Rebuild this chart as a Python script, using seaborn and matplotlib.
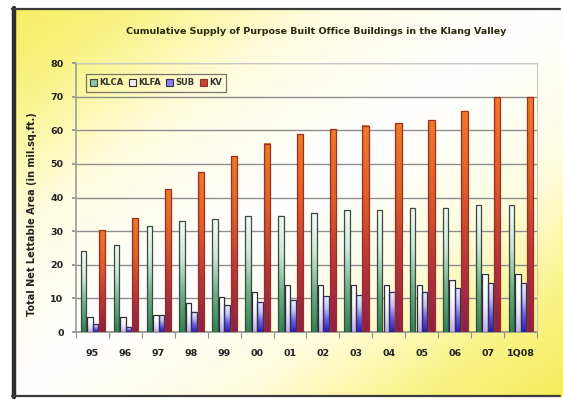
import numpy as np
import pandas as pd
import matplotlib
matplotlib.use("Agg")
import matplotlib.pyplot as plt
import seaborn as sns
from matplotlib.colors import LinearSegmentedColormap
from matplotlib.lines import Line2D
from matplotlib.patches import Patch

# ---- data ----
years = ["95", "96", "97", "98", "99", "00", "01", "02", "03", "04", "05", "06", "07", "1Q08"]
series = ["KLCA", "KLFA", "SUB", "KV"]
klca = [24, 26, 31.5, 33, 33.6, 34.4, 34.5, 35.5, 36.2, 36.2, 37, 37, 37.7, 37.7]
klfa = [4.5, 4.6, 5.2, 8.5, 10.5, 12, 14, 14, 14, 14, 14, 15.5, 17.3, 17.3]
sub = [2.5, 1.5, 5.0, 6.0, 7.9, 9.0, 9.5, 10.6, 11, 12, 12, 13, 14.5, 14.5]
kv = [30.3, 33.8, 42.4, 47.5, 52.3, 56.0, 58.8, 60.3, 61.3, 62.1, 63.0, 65.6, 69.8, 69.8]
values = {"KLCA": klca, "KLFA": klfa, "SUB": sub, "KV": kv}

title = "Cumulative Supply of Purpose Built Office Buildings in the Klang Valley"
ylabel = "Total Net Lettable Area (in mil.sq.ft.)"

df = pd.DataFrame([(y, s, values[s][i]) for s in series for i, y in enumerate(years)],
                  columns=["year", "series", "value"])

sns.set_theme(style="white")
plt.rcParams["font.family"] = ["DejaVu Sans"]

fig = plt.figure(figsize=(5.63, 4.01), dpi=100)

# background gradient (yellow corners, white centre)
bg = fig.add_axes([0, 0, 1, 1], zorder=-10)
xx, yy = np.meshgrid(np.linspace(0, 1, 300), np.linspace(0, 1, 220))
d = np.abs((xx + yy) / 2 - 0.5) * 2
bgcmap = LinearSegmentedColormap.from_list("bg", ["#ffffff", "#fffde0", "#faf48a", "#f4ec5a"])
bg.imshow(d ** 1.2, cmap=bgcmap, extent=[0, 1, 0, 1], aspect="auto", origin="upper",
          vmin=0, vmax=1, interpolation="bilinear")
bg.set_xlim(0, 1); bg.set_ylim(0, 1)
bg.axis("off")
bg.add_patch(plt.Rectangle((0, 0), 12 / 563, 1, color="white", zorder=5))
bg.add_patch(plt.Rectangle((0, 1 - 8 / 401), 1, 8 / 401, color="white", zorder=5))
bg.add_patch(plt.Rectangle((0, 0), 1, 4 / 401, color="white", zorder=5))

ax = fig.add_axes([76 / 563, 69 / 401, 461 / 563, 269 / 401])
ax.patch.set_alpha(0)

sns.barplot(data=df, x="year", y="value", hue="series", order=years, hue_order=series,
            width=0.8, dodge=True, ax=ax, legend=False, errorbar=None)

offsets = [-0.275, -0.075, 0.09, 0.295]
widths = [0.165, 0.165, 0.165, 0.19]
cmaps = [
    LinearSegmentedColormap.from_list("g", ["#2f8453", "#6fae88", "#cfe8da", "#f4fbf6"]),
    LinearSegmentedColormap.from_list("w", ["#b9aef0", "#e4e0fa", "#ffffff", "#ffffff"]),
    LinearSegmentedColormap.from_list("b", ["#2c1cb0", "#6a5ce0", "#c8c4f6", "#eeeeff"]),
    LinearSegmentedColormap.from_list("o", ["#8c2048", "#b8383a", "#e0602a", "#f07a28"]),
]
edges = ["#3a4a40", "#303030", "#303060", "#9a3020"]
grad = np.linspace(0, 1, 64).reshape(-1, 1)
hshade = np.concatenate([np.linspace(0.85, 1, 8), np.ones(8)]).reshape(1, -1)

for ci, cont in enumerate(ax.containers):
    for k, p in enumerate(cont.patches):
        h = p.get_height()
        w = widths[ci]
        x0 = k + offsets[ci] - w / 2
        p.set_x(x0)
        p.set_width(w)
        p.set_facecolor("none")
        p.set_edgecolor(edges[ci])
        p.set_linewidth(0.9)
        p.set_zorder(4)
        img = np.clip(grad * hshade, 0, 1)
        ax.imshow(img, cmap=cmaps[ci], extent=[x0, x0 + w, 0, h], origin="lower",
                  aspect="auto", vmin=0, vmax=1, zorder=3, interpolation="bilinear")

ax.set_xlim(-0.5, len(years) - 0.5)
ax.set_ylim(0, 80)
ax.set_yticks(range(0, 81, 10))
ax.yaxis.grid(True, color="#8e8e8e", linewidth=1.0)
ax.set_axisbelow(True)
for side in ["top", "right"]:
    ax.spines[side].set_color("#c8c8c8")
    ax.spines[side].set_linewidth(0.8)
ax.spines["left"].set_color("#a0a0a0")
ax.spines["bottom"].set_color("#909090")
ax.spines["bottom"].set_linewidth(1.2)

ax.set_xticks(range(len(years)))
ax.set_xticklabels(years)
ax.set_xticks(np.arange(-0.5, len(years)), minor=True)
ax.tick_params(axis="x", which="major", length=0, pad=12, labelsize=6.8, colors="#222222")
ax.tick_params(axis="x", which="minor", length=4, color="#909090", width=0.8, bottom=True)
ax.tick_params(axis="y", which="major", length=3, color="#909090", pad=6, labelsize=6.8,
               colors="#222222", left=True)
for t in ax.get_xticklabels() + ax.get_yticklabels():
    t.set_fontweight("bold")
ax.set_xlabel("")
ax.set_ylabel(ylabel, fontsize=7, fontweight="bold", color="#222222", labelpad=14)
ax.yaxis.set_label_coords(-0.085, 0.44)

handles = [Patch(facecolor=c(0.45), edgecolor=e, linewidth=0.8) for c, e in zip(cmaps, edges)]
leg = ax.legend(handles, series, loc="upper left", bbox_to_anchor=(0.012, 0.975), ncol=4,
                fontsize=6, handlelength=0.8, handleheight=0.8, handletextpad=0.25,
                columnspacing=0.7, borderpad=0.55, fancybox=False, frameon=True)
leg.get_frame().set_edgecolor("#555555")
leg.get_frame().set_facecolor("none")
leg.get_frame().set_linewidth(0.9)
for t in leg.get_texts():
    t.set_fontweight("bold")
    t.set_color("#333333")

fig.text(316 / 563, 1 - 31 / 401, title, ha="center", va="center", fontsize=6.8,
         fontweight="bold", color="#2a2a10")

# frame lines
fig.add_artist(Line2D([14 / 563, 14 / 563], [4 / 401, 1 - 8 / 401], color="#2e2e2e",
                      linewidth=3.2))
fig.add_artist(Line2D([12 / 563, 560 / 563], [1 - 9 / 401, 1 - 9 / 401], color="#3a3a3a",
                      linewidth=1.6))
fig.add_artist(Line2D([12 / 563, 560 / 563], [5 / 401, 5 / 401], color="#3a3a3a",
                      linewidth=1.6))

fig.savefig("out.png", dpi=100)
